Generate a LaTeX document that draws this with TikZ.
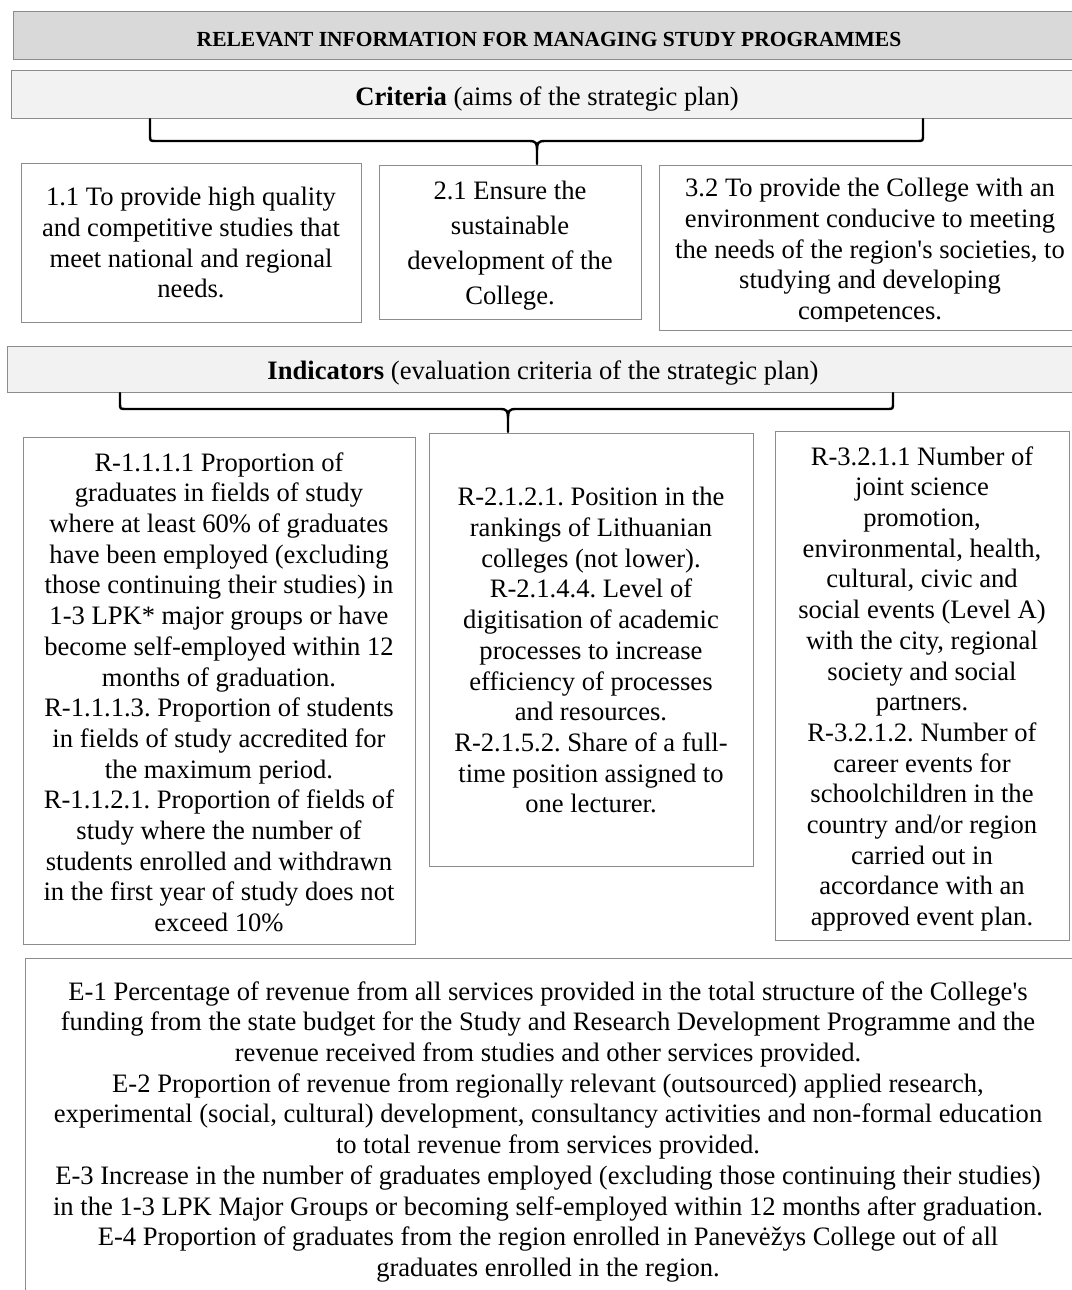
\documentclass[tikz,border=0pt]{standalone}
\usepackage{fontspec}
\setmainfont{Liberation Serif}[Ligatures=TeXOff]
\frenchspacing
\definecolor{boxgray}{HTML}{8C8C8C}
\definecolor{titlefill}{HTML}{D9D9D9}
\definecolor{headfill}{HTML}{F2F2F2}
\newcommand{\curlybrace}[6]{% left x, right x, top y, bar y, middle x, tip y
  \draw[bracepath] (#1,#3) -- (#1,{#4-6}) .. controls (#1,#4) .. ({#1+6},#4)
     -- ({#5-8},#4) .. controls ({#5-1},#4) and (#5,{#4+2}) .. (#5,{#4+9}) -- (#5,#6);
  \draw[bracepath] (#2,#3) -- (#2,{#4-6}) .. controls (#2,#4) .. ({#2-6},#4)
     -- ({#5+8},#4) .. controls ({#5+1},#4) and (#5,{#4+2}) .. (#5,{#4+9});
}
\begin{document}
\begin{tikzpicture}[x=1pt,y=-1pt,
  box/.style={draw=boxgray, line width=1.3pt, fill=white, inner sep=0pt, anchor=north west},
  txt/.style={align=center, inner sep=0pt, anchor=north, font=\fontsize{26.6}{30.7}\selectfont\frenchspacing},
  bracepath/.style={line width=2.4pt, line join=round, line cap=round}]
\useasboundingbox[fill=white] (0,0) rectangle (1071,1290);

% title bar
\node[box, fill=titlefill, minimum width=1080pt, minimum height=48pt] (title) at (13,11) {};
\node[txt, font=\fontsize{21.5}{25}\bfseries] (titlet) at (549,32) {RELEVANT INFORMATION FOR MANAGING STUDY PROGRAMMES};

% criteria header
\node[box, fill=headfill, minimum width=1080pt, minimum height=48pt] (crit) at (11,70) {};
\begin{scope}
  \clip (14,72) rectangle (1071,115);
  \node[txt] (critt) at (547,86.5) {\textbf{Criteria} (aims of the strategic plan)};
\end{scope}
\curlybrace{150}{923}{119}{141}{537}{164}

% criteria boxes
\node[box, minimum width=340pt, minimum height=159pt] (c1) at (21,163) {};
\node[txt] (c1t) at (191,187.2) {1.1 To provide high quality\\and competitive studies that\\meet national and regional\\needs.};
\node[box, minimum width=262pt, minimum height=154pt] (c2) at (379,165) {};
\begin{scope}
  \clip (381,167) rectangle (639,309);
  \node[txt, font=\fontsize{26.6}{35}\selectfont] (c2t) at (510,180.5) {2.1 Ensure the\\sustainable\\development of the\\College.};
\end{scope}
\node[box, minimum width=424pt, minimum height=165pt] (c3) at (659,165) {};
\begin{scope}
  \clip (661,167) rectangle (1071,321);
  \node[txt] (c3t) at (870,178.2) {3.2 To provide the College with an\\environment conducive to meeting\\the needs of the region's societies, to\\studying and developing\\competences.};
\end{scope}

% indicators header
\node[box, fill=headfill, minimum width=1080pt, minimum height=46pt] (ind) at (7,346) {};
\begin{scope}
  \clip (10,348) rectangle (1071,389);
  \node[txt] (indt) at (543,360.5) {\textbf{Indicators} (evaluation criteria of the strategic plan)};
\end{scope}
\curlybrace{120}{893}{393}{409}{508}{432}

% indicator boxes
\node[box, minimum width=392pt, minimum height=507pt] (i1) at (23,437) {};
\node[txt] (i1t) at (219,452.2) {R-1.1.1.1 Proportion of\\graduates in fields of study\\where at least 60\% of graduates\\have been employed (excluding\\those continuing their studies) in\\1-3 LPK* major groups or have\\become self-employed within 12\\months of graduation.\\R-1.1.1.3. Proportion of students\\in fields of study accredited for\\the maximum period.\\R-1.1.2.1. Proportion of fields of\\study where the number of\\students enrolled and withdrawn\\in the first year of study does not\\exceed 10\%};
\node[box, minimum width=324pt, minimum height=433pt] (i2) at (429,433) {};
\node[txt] (i2t) at (591,487.2) {R-2.1.2.1. Position in the\\rankings of Lithuanian\\colleges (not lower).\\R-2.1.4.4. Level of\\digitisation of academic\\processes to increase\\efficiency of processes\\and resources.\\R-2.1.5.2. Share of a full-\\time position assigned to\\one lecturer.};
\node[box, minimum width=294pt, minimum height=509pt] (i3) at (775,431) {};
\node[txt] (i3t) at (922,446.2) {R-3.2.1.1 Number of\\joint science\\promotion,\\environmental, health,\\cultural, civic and\\social events (Level A)\\with the city, regional\\society and social\\partners.\\R-3.2.1.2. Number of\\career events for\\schoolchildren in the\\country and/or region\\carried out in\\accordance with an\\approved event plan.};

% economic indicators
\node[box, minimum width=1080pt, minimum height=350pt] (econ) at (25,958) {};
\node[txt] (econt) at (548,981.2) {E-1 Percentage of revenue from all services provided in the total structure of the College's\\funding from the state budget for the Study and Research Development Programme and the\\revenue received from studies and other services provided.\\E-2 Proportion of revenue from regionally relevant (outsourced) applied research,\\experimental (social, cultural) development, consultancy activities and non-formal education\\to total revenue from services provided.\\E-3 Increase in the number of graduates employed (excluding those continuing their studies)\\in the 1-3 LPK Major Groups or becoming self-employed within 12 months after graduation.\\E-4 Proportion of graduates from the region enrolled in Panevėžys College out of all\\graduates enrolled in the region.};
\end{tikzpicture}
\end{document}
